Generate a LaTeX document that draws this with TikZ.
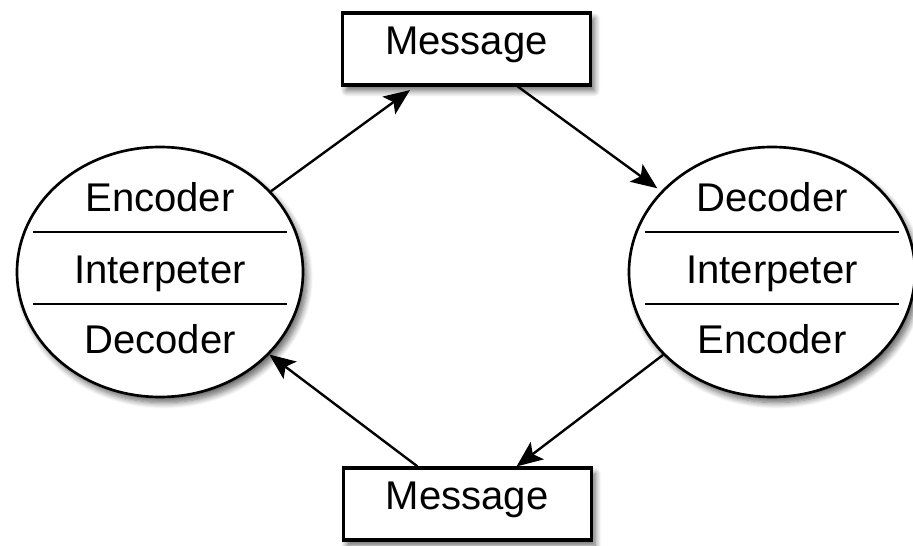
\documentclass[tikz,border=0pt]{standalone}
\usepackage{fontspec}
\setmainfont{Liberation Sans}
\usetikzlibrary{shapes.geometric,shadows.blur,arrows.meta}

\begin{document}
\begin{tikzpicture}[msg/.style={rectangle, draw, line width=2.2pt, fill=white,
                      minimum width=6.2cm, minimum height=1.8cm, inner sep=0pt,
                      text height=0.716em, text depth=0pt,
                      font=\fontsize{28.5}{34}\selectfont,
                      blur shadow={shadow xshift=0.1cm, shadow yshift=-0.14cm,
                        shadow blur radius=0.15cm, shadow blur steps=8, shadow opacity=60}},
                    agent/.style={ellipse, draw, line width=1.9pt, fill=white,
                      minimum width=7.15cm, minimum height=6.25cm,
                      blur shadow={shadow xshift=0.1cm, shadow yshift=-0.14cm,
                        shadow blur radius=0.15cm, shadow blur steps=8, shadow opacity=60}},
                    part/.style={anchor=base, inner sep=0pt, font=\fontsize{28.5}{34}\selectfont},
                    >={Stealth[length=6.5mm, width=5.4mm, inset=1.4mm]}, line width=1.7pt]
\useasboundingbox (0,0) rectangle (22.825,-13.65);
\node[msg] (top) at (11.66,-1.225) {Message};
\node[msg] (bot) at (11.68,-12.6) {Message};
\node[agent] (left) at (4.0,-6.8) {};
\node[agent] (right) at (19.3,-6.8) {};
% rows in the left ellipse
\node[part] (lenc) at (4.0,-5.29) {Encoder};
\node[part] (lint) at (4.0,-7.08) {Interpeter};
\node[part] (ldec) at (4.0,-8.83) {Decoder};
\draw (0.825,-5.8) -- (7.175,-5.8);
\draw (0.825,-7.6) -- (7.175,-7.6);
% rows in the right ellipse
\node[part] (rdec) at (19.3,-5.29) {Decoder};
\node[part] (rint) at (19.3,-7.08) {Interpeter};
\node[part] (renc) at (19.3,-8.83) {Encoder};
\draw (16.125,-5.8) -- (22.475,-5.8);
\draw (16.125,-7.6) -- (22.475,-7.6);
\draw[->, shorten >=0.15cm] (left) -- (top);
\draw[->, shorten >=0.12cm] (top) -- (right);
\draw[->] (right) -- (bot);
\draw[->] (bot) -- (left);
\end{tikzpicture}
\end{document}
